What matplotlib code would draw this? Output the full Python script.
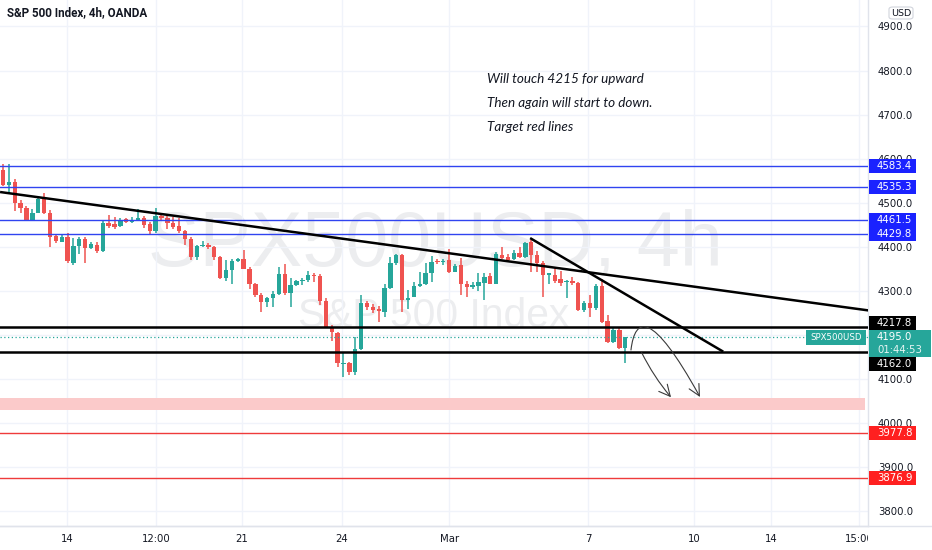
import matplotlib
matplotlib.use('Agg')
import matplotlib.pyplot as plt
from matplotlib.patches import Rectangle, FancyArrowPatch, FancyBboxPatch
from matplotlib.path import Path
from matplotlib.lines import Line2D
import matplotlib.transforms as mtransforms
import numpy as np

# ---------------- data ----------------
opens = [4574, 4540, 4548, 4500, 4488, 4462, 4476, 4508, 4478, 4425,
         4412, 4422, 4363, 4402, 4417, 4397, 4404, 4391, 4454, 4452,
         4447, 4463, 4457, 4461, 4466, 4452, 4435, 4470, 4465, 4455,
         4447, 4435, 4417, 4376, 4402, 4404, 4400, 4378, 4329, 4348,
         4369, 4372, 4351, 4316, 4291, 4274, 4283, 4293, 4339, 4295,
         4314, 4322, 4325, 4336, 4333, 4278, 4218, 4205, 4134, 4137,
         4117, 4168, 4272, 4263, 4260, 4253, 4306, 4363, 4382, 4280,
         4287, 4311, 4317, 4340, 4369, 4366, 4370, 4344, 4359, 4316,
         4310, 4311, 4319, 4334, 4317, 4382, 4378, 4372, 4387, 4378,
         4410, 4382, 4363, 4336, 4336, 4327, 4320, 4323, 4319, 4257,
         4272, 4261, 4311, 4233, 4185, 4212, 4170]
highs = [4588, 4588, 4554, 4506, 4492, 4487, 4515, 4523, 4484, 4428,
         4427, 4432, 4420, 4422, 4422, 4410, 4410, 4459, 4472, 4468,
         4466, 4466, 4467, 4485, 4470, 4456, 4488, 4476, 4472, 4468,
         4466, 4438, 4422, 4404, 4413, 4408, 4402, 4380, 4370, 4372,
         4375, 4393, 4354, 4318, 4295, 4286, 4301, 4355, 4361, 4329,
         4326, 4330, 4345, 4341, 4338, 4285, 4223, 4208, 4162, 4140,
         4196, 4291, 4278, 4270, 4265, 4317, 4376, 4385, 4385, 4302,
         4321, 4344, 4363, 4380, 4373, 4373, 4395, 4362, 4374, 4323,
         4320, 4340, 4340, 4340, 4388, 4399, 4383, 4392, 4399, 4412,
         4416, 4391, 4368, 4340, 4354, 4345, 4325, 4331, 4320, 4278,
         4291, 4315, 4327, 4245, 4215, 4215, 4196]
lows = [4538, 4522, 4482, 4478, 4459, 4460, 4476, 4475, 4399, 4408,
        4411, 4363, 4359, 4384, 4363, 4395, 4386, 4389, 4444, 4440,
        4445, 4455, 4455, 4461, 4444, 4429, 4432, 4461, 4440, 4440,
        4432, 4404, 4371, 4371, 4400, 4395, 4371, 4327, 4323, 4317,
        4366, 4349, 4304, 4287, 4253, 4264, 4264, 4291, 4291, 4264,
        4312, 4314, 4320, 4320, 4268, 4215, 4187, 4128, 4104, 4110,
        4110, 4166, 4257, 4250, 4230, 4240, 4305, 4359, 4253, 4259,
        4287, 4310, 4314, 4320, 4362, 4360, 4340, 4342, 4290, 4287,
        4305, 4300, 4280, 4315, 4316, 4372, 4366, 4370, 4375, 4374,
        4342, 4344, 4287, 4316, 4319, 4312, 4283, 4314, 4254, 4253,
        4242, 4257, 4228, 4183, 4183, 4168, 4137]
closes = [4540, 4548, 4499, 4488, 4461, 4476, 4508, 4476, 4423, 4414,
          4422, 4369, 4402, 4419, 4397, 4406, 4391, 4454, 4447, 4445,
          4461, 4457, 4461, 4466, 4450, 4435, 4469, 4465, 4455, 4446,
          4435, 4417, 4376, 4402, 4404, 4400, 4378, 4329, 4348, 4369,
          4372, 4351, 4317, 4291, 4274, 4283, 4293, 4339, 4295, 4314,
          4323, 4325, 4336, 4333, 4278, 4218, 4208, 4136, 4137, 4117,
          4168, 4272, 4263, 4257, 4255, 4306, 4363, 4382, 4280, 4284,
          4311, 4317, 4340, 4365, 4366, 4369, 4342, 4357, 4316, 4310,
          4314, 4321, 4332, 4317, 4384, 4374, 4370, 4387, 4378, 4408,
          4382, 4363, 4336, 4340, 4323, 4319, 4323, 4319, 4257, 4272,
          4261, 4311, 4230, 4185, 4212, 4170, 4195]

time_tick_pos = [10.9, 26.1, 40.7, 57.75, 76.0, 99.7, 117.7, 130.8, 145.8]
time_tick_labels = ['14', '12:00', '21', '24', 'Mar', '7', '10', '14', '15:00']
price_ticks = list(range(3800, 4901, 100))

blue_levels = [4583.4, 4535.3, 4461.5, 4429.8]
black_levels = [4217.8, 4162.0]
black_label_pos = [4227.0, 4134.8]
red_levels = [3977.8, 3876.9]
zone_low, zone_high = 4030.0, 4057.0
last_price = 4195.0
countdown = '01:44:53'
symbol = 'SPX500USD'

trend_long_x = [-0.5, 147.4]
trend_long_y = [4524.5, 4256.0]
trend_short_x = [89.8, 122.7]
trend_short_y = [4420.0, 4162.4]

notes = ['Will touch 4215 for upward', 'Then again will start to down.', 'Target red lines']
notes_x = 82.4
notes_y = [4780.2, 4725.8, 4671.3]

arrow1 = [(106.98, 4166.2), (107.67, 4243.3), (110.56, 4256.9), (118.74, 4059.6)]
arrow2 = [(108.81, 4160.1), (113.80, 4059.0)]

XMIN, XMAX = -0.511, 147.36
YMIN, YMAX = 3767.0, 4960.0

# ---------------- style ----------------
UP = '#26a69a'
DOWN = '#ef5350'
TXT = '#131722'
GRID = '#f0f3fa'
BLUE_LINE = '#3044f0'
BLUE_BOX = '#1a22ff'
RED_LINE = '#ef3b3b'
RED_BOX = '#ff2020'
ZONE = '#fbcaca'
WM = '#ecedef'
AXFONT = 7.3

fig = plt.figure(figsize=(9.32, 5.5), dpi=100)
fig.patch.set_facecolor('white')
ax = fig.add_axes([0, 24 / 550, 868 / 932, 526 / 550])
ax.set_facecolor('white')
ax.set_xlim(XMIN, XMAX)
ax.set_ylim(YMIN, YMAX)

# grid & ticks
ax.set_yticks(price_ticks)
ax.set_yticklabels([f'{p:.1f}' for p in price_ticks])
ax.set_xticks(time_tick_pos)
ax.set_xticklabels(time_tick_labels)
ax.grid(True, color=GRID, linewidth=1.0, zorder=0)
ax.set_axisbelow(True)
ax.yaxis.tick_right()
ax.tick_params(axis='y', length=0, pad=7, labelsize=AXFONT, labelcolor=TXT)
ax.tick_params(axis='x', length=0, pad=6, labelsize=AXFONT, labelcolor=TXT)
for s in ['top', 'left']:
    ax.spines[s].set_visible(False)
for s in ['right', 'bottom']:
    ax.spines[s].set_color('#e0e3eb')
    ax.spines[s].set_linewidth(1.0)
clipbb = mtransforms.TransformedBbox(mtransforms.Bbox([[0, -0.2], [1, 1]]), ax.transAxes)
for lbl in ax.get_xticklabels():
    lbl.set_clip_on(True)
    lbl.set_clip_box(clipbb)
fig.add_artist(Line2D([0, 1], [24 / 550, 24 / 550], transform=fig.transFigure,
                      color='#e0e3eb', lw=1.0))

# watermark
wm_fam = ['Liberation Sans Narrow', 'Liberation Sans', 'DejaVu Sans']
wm1 = ax.text(435.5 / 868, 1 - 266 / 526, 'SPX500USD, 4h', transform=ax.transAxes,
              ha='center', va='baseline', fontsize=60, color=WM,
              family=wm_fam, zorder=0.5)
wm2 = ax.text(433.5 / 868, 1 - 327 / 526, 'S&P 500 Index', transform=ax.transAxes,
              ha='center', va='baseline', fontsize=28, color=WM,
              family=['Liberation Sans', 'DejaVu Sans'], zorder=0.5)

# title
title = ax.text(7 / 868, 1 - 13 / 526, 'S&P 500 Index, 4h, OANDA', transform=ax.transAxes,
                ha='left', va='center', fontsize=9, color=TXT, fontweight='bold',
                family=['Roboto', 'DejaVu Sans'], zorder=6)

# zone
ax.axhspan(zone_low, zone_high, xmin=0, xmax=865 / 868, color=ZONE, lw=0, zorder=1.5)

# candles
idx = np.arange(len(opens))
o = np.array(opens, float); c = np.array(closes, float)
h = np.array(highs, float); l = np.array(lows, float)
cols = [UP if cc >= oo else DOWN for oo, cc in zip(o, c)]
ax.vlines(idx, l, h, colors=cols, linewidth=1.1, zorder=2)
bottoms = np.minimum(o, c)
heights = np.maximum(np.abs(c - o), 2.3)
ax.bar(idx, heights, bottom=bottoms, width=0.74, color=cols, linewidth=0, zorder=2.1)

# horizontal levels
for p in blue_levels:
    ax.axhline(p, color=BLUE_LINE, lw=1.0, zorder=3)
for p in black_levels:
    ax.axhline(p, color='black', lw=1.8, zorder=3)
for p in red_levels:
    ax.axhline(p, color=RED_LINE, lw=1.0, zorder=3)
ax.axhline(last_price, color=UP, lw=0.9, ls=(0, (1, 2)), zorder=3)

# trend lines
ax.plot(trend_long_x, trend_long_y, color='black', lw=1.8, zorder=3.5, solid_capstyle='butt')
ax.plot(trend_short_x, trend_short_y, color='black', lw=1.8, zorder=3.5, solid_capstyle='butt')

# arrows
p1 = Path(arrow1, [Path.MOVETO, Path.CURVE4, Path.CURVE4, Path.CURVE4])
a1 = FancyArrowPatch(path=p1, arrowstyle='->,head_length=0.8,head_width=0.4',
                     mutation_scale=10, lw=0.8, color='#3a3a3a', zorder=4)
ax.add_patch(a1)
a2 = FancyArrowPatch(arrow2[0], arrow2[1], connectionstyle='arc3,rad=0.06',
                     arrowstyle='->,head_length=0.8,head_width=0.4',
                     mutation_scale=10, lw=0.8, color='#3a3a3a', shrinkA=0, shrinkB=0, zorder=4)
ax.add_patch(a2)

# notes
note_txts = []
for t, yy in zip(notes, notes_y):
    note_txts.append(ax.text(notes_x, yy, t, ha='left', va='center', fontsize=9.2,
                             style='italic', color=TXT, family=['Lato', 'DejaVu Sans'], zorder=5))

# price axis labels
bl = mtransforms.blended_transform_factory(ax.transAxes, ax.transData)
PX = (YMAX - YMIN) / 526.0  # price per pixel
BOXW = 47 / 868
BOXH = 14 * PX


def price_box(y, text, face, ypos=None):
    yc = y if ypos is None else ypos
    ax.add_patch(Rectangle((1.0 + 1 / 868, yc - BOXH / 2), BOXW, BOXH, transform=bl,
                           facecolor=face, edgecolor='none', clip_on=False, zorder=7))
    ax.text(1.0 + 9 / 868, yc, text, transform=bl, ha='left', va='center',
            fontsize=AXFONT, color='white', clip_on=False, zorder=8)


for p in blue_levels:
    price_box(p, f'{p:.1f}', BLUE_BOX)
for p, pos in zip(black_levels, black_label_pos):
    price_box(p, f'{p:.1f}', 'black', pos)
for p in red_levels:
    price_box(p, f'{p:.1f}', RED_BOX)

# last price teal box (two lines)
top_y = last_price + 7 * PX
ax.add_patch(Rectangle((1.0 + 1 / 868, top_y - 27 * PX), 62 / 868, 27 * PX, transform=bl,
                       facecolor=UP, edgecolor='none', clip_on=False, zorder=7))
ax.text(1.0 + 9 / 868, last_price, f'{last_price:.1f}', transform=bl, ha='left', va='center',
        fontsize=AXFONT, color='white', clip_on=False, zorder=8)
ax.text(1.0 + 9 / 868, last_price - 13 * PX, countdown, transform=bl, ha='left', va='center',
        fontsize=AXFONT, color='#e6f5f3', clip_on=False, zorder=8)
# symbol label
ax.add_patch(Rectangle((806 / 868, last_price - 7.5 * PX), 60 / 868, 15 * PX, transform=bl,
                       facecolor=UP, edgecolor='none', clip_on=False, zorder=7))
sym_txt = ax.text(836 / 868, last_price, symbol, transform=bl, ha='center', va='center',
                  fontsize=AXFONT, color='white', zorder=8)

# USD box
fig.add_artist(FancyBboxPatch((889 / 932, 1 - 19 / 550), 24 / 932, 12 / 550,
                              boxstyle='round,pad=0,rounding_size=0.004',
                              transform=fig.transFigure, facecolor='white',
                              edgecolor='#d1d4dc', lw=0.8))
fig.text(901 / 932, 1 - 13 / 550, 'USD', ha='center', va='center', fontsize=6.8, color=TXT)

# fit text widths
fig.canvas.draw()
r = fig.canvas.get_renderer()


def fit(t, target):
    w = t.get_window_extent(r).width
    t.set_fontsize(t.get_fontsize() * target / w)


fit(wm1, 575)
fit(wm2, 271)
fit(title, 141)
fit(sym_txt, 51)
w0 = note_txts[0].get_window_extent(r).width
for t in note_txts:
    t.set_fontsize(t.get_fontsize() * 157 / w0)

fig.savefig('out.png', dpi=100, facecolor='white')
